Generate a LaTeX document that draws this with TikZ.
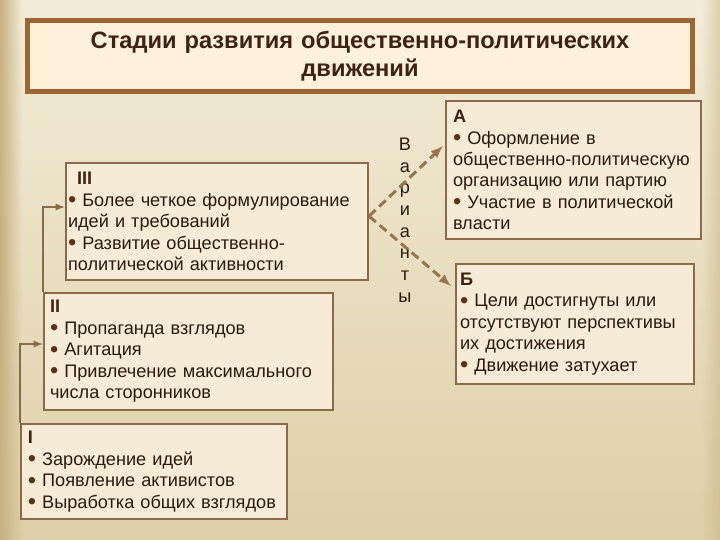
\documentclass[tikz,border=0pt]{standalone}
\usepackage{fontspec}
\setmainfont{Liberation Sans}
\usetikzlibrary{arrows,positioning,fadings}
\tikzset{>=latex}

\definecolor{bgtop}{HTML}{F4ECD8}
\definecolor{bgbot}{HTML}{DDCFA8}
\definecolor{bgedge}{HTML}{C8B080}
\definecolor{boxfill}{HTML}{F6EBD6}
\definecolor{titlefill}{HTML}{FDF1D9}
\definecolor{frame}{HTML}{8C6A47}
\definecolor{titleframe}{HTML}{9C6634}
\definecolor{dashc}{HTML}{9A7450}
\definecolor{txt}{HTML}{2B1C0F}
\definecolor{labc}{HTML}{3E2310}
\definecolor{bulc}{HTML}{5E3116}

\newcommand{\bul}{{\color{bulc}\raisebox{-0.15ex}{\scalebox{1.3}{\textbullet}}}\ }
\newcommand{\lab}[1]{{\bfseries\color{labc}#1}}

\begin{document}
\begin{tikzpicture}[x=0.3mm,y=-0.3mm,
    stage/.style={draw=frame, line width=0.6mm, fill=boxfill, anchor=north west,
      align=left, inner ysep=0pt, text=txt,
      font=\fontsize{15.5}{18.3}\selectfont},
    heading/.style={draw=titleframe, line width=1.5mm, fill=titlefill, anchor=north west,
      align=center, text=labc, font=\fontsize{20.2}{23.9}\selectfont\bfseries},
    link/.style={draw=frame, line width=0.6mm},
    varlink/.style={draw=dashc, line width=0.9mm, dash pattern=on 2.7mm off 1.5mm}]
  % background
  \fill[top color=bgtop, bottom color=bgbot] (0,0) rectangle (720,540);
  \fill[bgedge, path fading=east] (0,0) rectangle (22,540);
  \fill[bgedge, path fading=west, opacity=0.5] (702,0) rectangle (720,540);
  \useasboundingbox (0,0) rectangle (720,540);

  \node[heading, text width=195mm, minimum width=199.5mm, minimum height=21.3mm] (title) at (25,18)
    {Стадии развития общественно-политических\\движений};

  \node[stage, inner xsep=0.6mm, text width=89.4mm, minimum height=35.1mm] (stageIII) at (65,162)
    {\ \,\lab{III}\\\bul Более четкое формулирование\\идей и требований\\\bul Развитие общественно-\\политической активности};
  \node[stage, inner xsep=1.8mm, text width=83.1mm, minimum height=35.1mm] (stageII) at (43,292)
    {\lab{II}\\\bul Пропаганда взглядов\\\bul Агитация\\\bul Привлечение максимального\\числа сторонников};
  \node[stage, inner xsep=2.2mm, text width=75.6mm, minimum height=28.5mm] (stageI) at (19.5,423)
    {\lab{I}\\\bul Зарождение идей\\\bul Появление активистов\\\bul Выработка общих взглядов};

  \node[stage, inner xsep=2.1mm, text width=72.3mm, minimum height=41.4mm] (outA) at (445,100)
    {\lab{А}\\\bul Оформление в\\общественно-политическую\\организацию или партию\\\bul Участие в политической\\власти};
  \node[stage, inner xsep=1.2mm, text width=69mm, minimum height=36mm] (outB) at (455,263)
    {\lab{Б}\\\bul Цели достигнуты или\\отсутствуют перспективы\\их достижения\\\bul Движение затухает};

  \node[align=center, text=txt, inner sep=0pt, font=\fontsize{15.5}{18.5}\selectfont] (variants) at (405,220)
    {В\\а\\р\\и\\а\\н\\т\\ы};

  % stage transitions
  \draw[link,->] (stageII.north west) |- ([yshift=4.35mm]stageIII.west);
  \draw[link,->] (stageI.north west) |- ([yshift=2.25mm]stageII.west);
  % outcome variants
  \draw[varlink,->] ([yshift=1.6mm]stageIII.east) -- ([xshift=-0.6mm,yshift=7.2mm]outA.west);
  \draw[varlink,->] ([yshift=1.6mm]stageIII.east) -- ([xshift=-1.2mm,yshift=11.4mm]outB.west);
\end{tikzpicture}
\end{document}
